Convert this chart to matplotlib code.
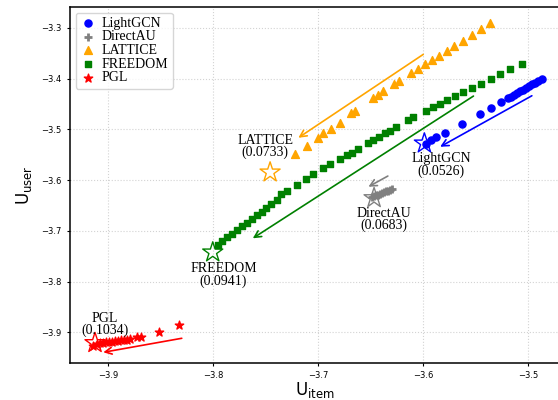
import numpy as np
import matplotlib.pyplot as plt

# LightGCN trajectory
lightgcn_x = [-3.5970, -3.5922, -3.5875, -3.5789, -3.5630, -3.5455, -3.5354, -3.5258,
              -3.5189, -3.5160, -3.5131, -3.5103, -3.5074, -3.5046, -3.5017, -3.4989,
              -3.4960, -3.4931, -3.4903, -3.4868]
lightgcn_y = [-3.5291, -3.5212, -3.5153, -3.5068, -3.4897, -3.4700, -3.4576, -3.4463,
              -3.4391, -3.4357, -3.4322, -3.4288, -3.4253, -3.4216, -3.4186, -3.4150,
              -3.4117, -3.4081, -3.4048, -3.4005]

# DirectAU trajectory
directau_x = [-3.6484, -3.6465, -3.6446, -3.6427, -3.6408, -3.6389, -3.6370, -3.6351,
              -3.6332, -3.6313, -3.6294]
directau_y = [-3.6335, -3.6319, -3.6303, -3.6287, -3.6272, -3.6256, -3.6240, -3.6224,
              -3.6209, -3.6193, -3.6177]

# LATTICE trajectory
lattice_x = [-3.5360, -3.5449, -3.5534, -3.5620, -3.5700, -3.5772, -3.5849, -3.5912,
             -3.5979, -3.6043, -3.6115, -3.6224, -3.6274, -3.6379, -3.6427, -3.6474,
             -3.6643, -3.6687, -3.6789, -3.6879, -3.6948, -3.7001, -3.7100, -3.7217]
lattice_y = [-3.2913, -3.3032, -3.3138, -3.3256, -3.3355, -3.3453, -3.3552, -3.3642,
             -3.3721, -3.3813, -3.3886, -3.4050, -3.4115, -3.4247, -3.4326, -3.4391,
             -3.4635, -3.4686, -3.4867, -3.4985, -3.5080, -3.5167, -3.5324, -3.5494]

# FREEDOM trajectory
freedom_x = [-3.5058, -3.5170, -3.5265, -3.5353, -3.5449, -3.5534, -3.5614, -3.5693,
             -3.5772, -3.5836, -3.5900, -3.5970, -3.6090, -3.6144, -3.6255, -3.6312,
             -3.6360, -3.6414, -3.6471, -3.6525, -3.6614, -3.6677, -3.6725, -3.6789,
             -3.6884, -3.6948, -3.7043, -3.7112, -3.7201, -3.7296, -3.7350, -3.7391,
             -3.7446, -3.7493, -3.7534, -3.7579, -3.7627, -3.7674, -3.7722, -3.7770,
             -3.7817, -3.7865, -3.7912, -3.7950]
freedom_y = [-3.3715, -3.3813, -3.3912, -3.4005, -3.4103, -3.4188, -3.4261, -3.4339,
             -3.4424, -3.4497, -3.4568, -3.4635, -3.4765, -3.4818, -3.4950, -3.5029,
             -3.5080, -3.5147, -3.5212, -3.5277, -3.5383, -3.5462, -3.5507, -3.5592,
             -3.5691, -3.5769, -3.5888, -3.5980, -3.6088, -3.6211, -3.6276, -3.6394,
             -3.6473, -3.6551, -3.6624, -3.6689, -3.6768, -3.6837, -3.6906, -3.6985,
             -3.7063, -3.7132, -3.7201, -3.7280]

# PGL trajectory
pgl_x = [-3.8319, -3.8512, -3.8681, -3.8722, -3.8789, -3.8817, -3.8846, -3.8874,
         -3.8903, -3.8931, -3.8960, -3.8989, -3.9017, -3.9046, -3.9074, -3.9103, -3.9141]
pgl_y = [-3.8862, -3.9000, -3.9086, -3.9098, -3.9137, -3.9145, -3.9153, -3.9161,
         -3.9169, -3.9177, -3.9185, -3.9193, -3.9200, -3.9208, -3.9216, -3.9230, -3.9279]

# final points (hollow stars) and their scores
models = ['LightGCN', 'DirectAU', 'LATTICE', 'FREEDOM', 'PGL']
scores = ['0.0526', '0.0683', '0.0733', '0.0941', '0.1034']
final_x = [-3.5986, -3.6465, -3.7455, -3.8001, -3.9122]
final_y = [-3.5277, -3.6354, -3.5848, -3.7424, -3.9210]

# label centres
label_x = [-3.5827, -3.6376, -3.7502, -3.7900, -3.9025]
label_y = [-3.5704, -3.6778, -3.5340, -3.7871, -3.8846]

# arrows (start -> end)
arrow_start_x = [-3.4963, -3.6334, -3.5997, -3.5519, -3.8296]
arrow_start_y = [-3.4339, -3.5921, -3.3524, -3.4345, -3.9118]
arrow_end_x = [-3.5836, -3.6519, -3.7186, -3.7620, -3.9043]
arrow_end_y = [-3.5344, -3.6132, -3.5167, -3.7148, -3.9394]

colors = ['blue', 'gray', 'orange', 'green', 'red']
serif = 'Liberation Serif'

fig = plt.figure(figsize=(5.58, 4), dpi=100)
ax = fig.add_axes([70 / 558, 37 / 400, 490 / 558, 356 / 400])

ax.scatter(lightgcn_x, lightgcn_y, s=26, marker='o', color='blue', label='LightGCN', zorder=3)
ax.scatter(directau_x, directau_y, s=40, marker='+', color='gray', linewidths=2, label='DirectAU', zorder=3)
ax.scatter(lattice_x, lattice_y, s=32, marker='^', color='orange', label='LATTICE', zorder=3)
ax.scatter(freedom_x, freedom_y, s=24, marker='s', color='green', label='FREEDOM', zorder=3)
ax.scatter(pgl_x, pgl_y, s=40, marker='*', color='red', label='PGL', zorder=3)

for i in range(len(models)):
    ax.scatter(final_x[i], final_y[i], s=230, marker='*', facecolors='none',
               edgecolors=colors[i], linewidths=1.0, zorder=4)
    ax.annotate('', xy=(arrow_end_x[i], arrow_end_y[i]),
                xytext=(arrow_start_x[i], arrow_start_y[i]),
                arrowprops=dict(arrowstyle='->', color=colors[i], lw=1.2,
                                shrinkA=0, shrinkB=0, mutation_scale=12))
    ax.text(label_x[i], label_y[i], models[i] + '\n(' + scores[i] + ')',
            ha='center', va='center', fontsize=10, family=serif,
            linespacing=0.9, zorder=5)

ax.set_xlim(-3.936, -3.4695)
ax.set_ylim(-3.9605, -3.259)
ax.set_xticks([-3.9, -3.8, -3.7, -3.6, -3.5])
ax.set_yticks([-3.9, -3.8, -3.7, -3.6, -3.5, -3.4, -3.3])
ax.tick_params(labelsize=6, length=2.5, width=0.8)
ax.grid(True, linestyle=':', color='lightgray', linewidth=0.8)
ax.set_axisbelow(True)
for sp in ax.spines.values():
    sp.set_linewidth(1.1)

ax.set_xlabel(r'U$_{\rm item}$', fontsize=12, labelpad=0)
ax.set_ylabel(r'U$_{\rm user}$', fontsize=12, labelpad=5)

ax.legend(loc='upper left', prop={'family': serif, 'size': 10}, labelspacing=0.05,
          handletextpad=0.4, handlelength=1.2, borderpad=0.3, borderaxespad=0.4,
          scatterpoints=1, fancybox=True)

plt.savefig('out.png', dpi=100)
